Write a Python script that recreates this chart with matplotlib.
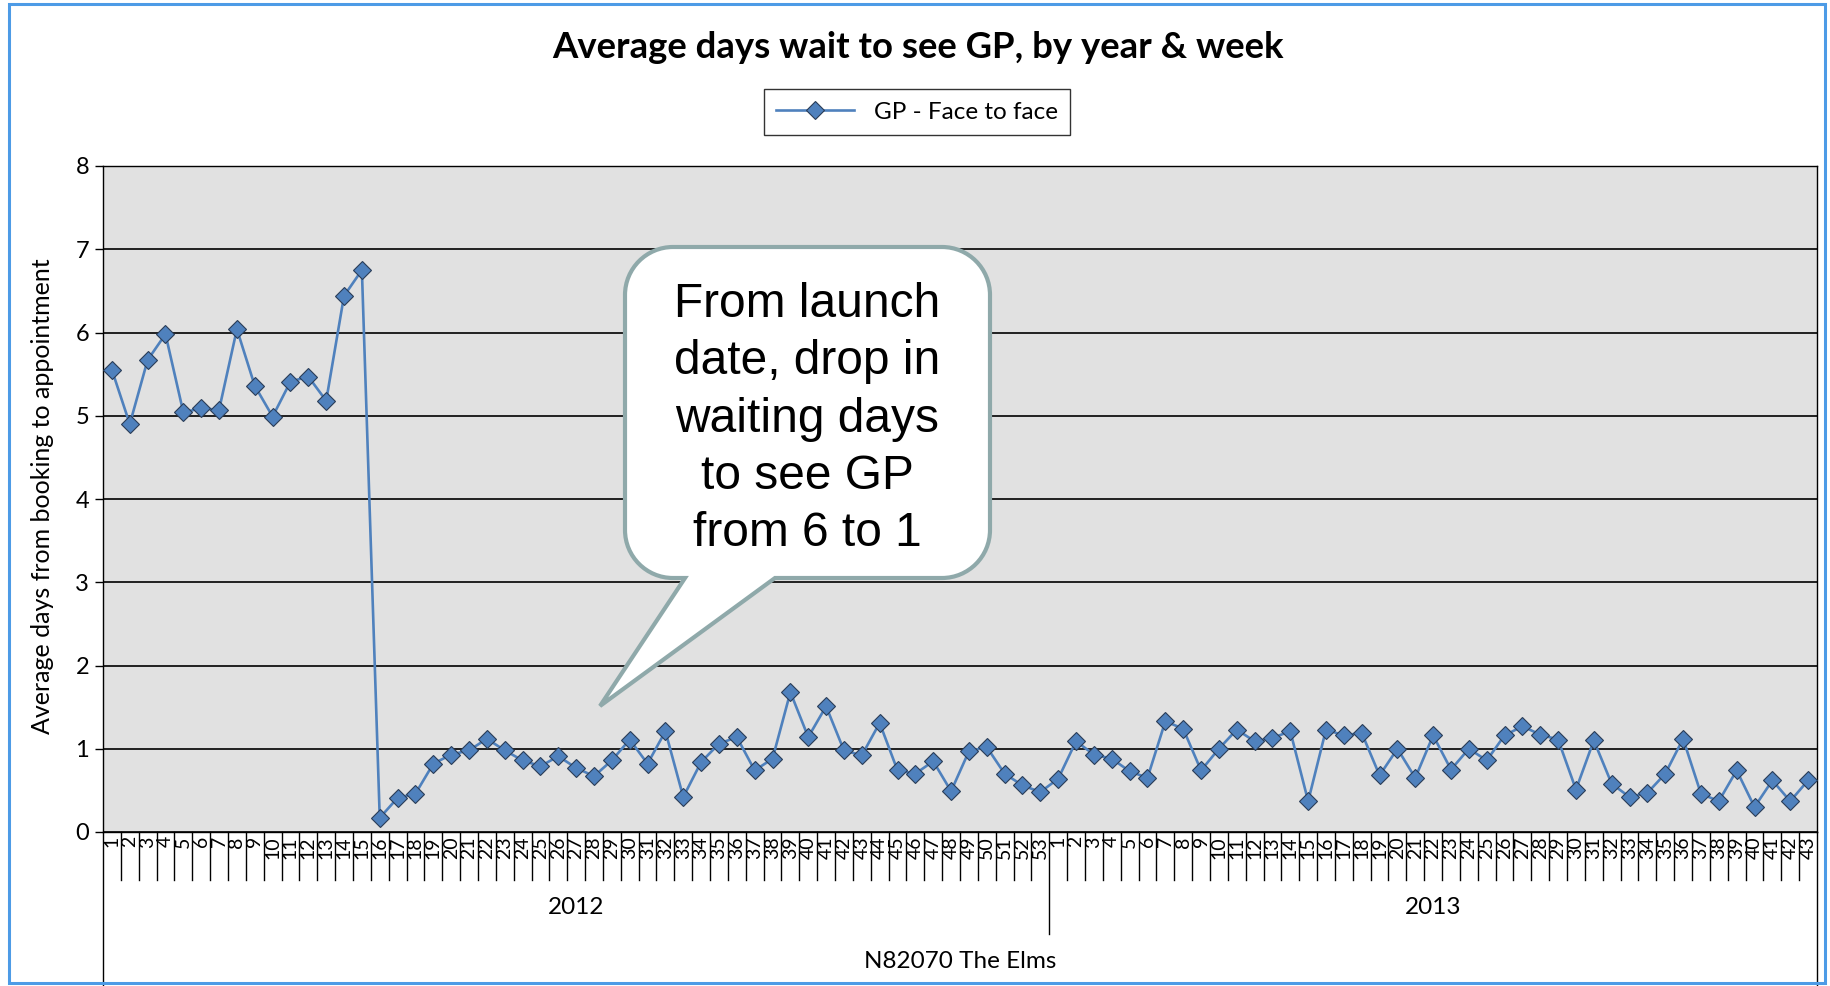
import numpy as np
import matplotlib
matplotlib.use("Agg")
import matplotlib.pyplot as plt
from matplotlib.path import Path
from matplotlib.patches import PathPatch, Rectangle
from matplotlib.transforms import Affine2D, blended_transform_factory

# -----------------------------
# DATA
# -----------------------------
years = ["2012", "2013"]
weeks_2012 = list(range(1, 54))
weeks_2013 = list(range(1, 44))

wait_2012 = [5.55, 4.90, 5.67, 5.98, 5.04, 5.09, 5.07, 6.04, 5.36, 4.99,
             5.41, 5.47, 5.18, 6.44, 6.75, 0.17, 0.41, 0.46, 0.82, 0.93,
             0.98, 1.12, 0.98, 0.86, 0.79, 0.91, 0.77, 0.67, 0.86, 1.11,
             0.82, 1.21, 0.42, 0.84, 1.06, 1.14, 0.74, 0.88, 1.68, 1.14,
             1.51, 0.98, 0.92, 1.31, 0.74, 0.70, 0.85, 0.49, 0.97, 1.02,
             0.70, 0.56, 0.48]
wait_2013 = [0.64, 1.09, 0.93, 0.88, 0.73, 0.65, 1.33, 1.24, 0.74, 1.00,
             1.23, 1.09, 1.13, 1.21, 0.37, 1.23, 1.16, 1.19, 0.68, 1.00,
             0.65, 1.16, 0.75, 1.00, 0.86, 1.16, 1.27, 1.17, 1.11, 0.51,
             1.10, 0.58, 0.42, 0.47, 0.70, 1.12, 0.46, 0.37, 0.74, 0.30,
             0.62, 0.37, 0.62]

series_name = "GP - Face to face"
practice = "N82070 The Elms"
title = "Average days wait to see GP, by year & week"
ylabel = "Average days from booking to appointment"
callout = "From launch\ndate, drop in\nwaiting days\nto see GP\nfrom 6 to 1"

values = wait_2012 + wait_2013
week_labels = [str(w) for w in weeks_2012 + weeks_2013]
x = np.arange(len(values))
n = len(values)

# -----------------------------
# FIGURE
# -----------------------------
W, H = 1831, 986
fig = plt.figure(figsize=(W / 100, H / 100), dpi=100)
fig.patch.set_facecolor("white")

# pixel coords (origin top-left) -> figure
px = Affine2D().scale(1 / W, -1 / H).translate(0, 1) + fig.transFigure

ax = fig.add_axes([103 / W, 1 - 832 / H, (1817 - 103) / W, (832 - 166) / H])
ax.set_facecolor("#e1e1e1")

blue = "#4f81bd"
ax.plot(x, values, color=blue, lw=1.9, marker="D", ms=9.5,
        mfc=blue, mec="#2a3d57", mew=0.8, label=series_name, zorder=3)

ax.set_xlim(-0.5, n - 0.5)
ax.set_ylim(0, 8)
ax.set_yticks(range(9))
ax.yaxis.grid(True, color="black", lw=1.2)
ax.set_axisbelow(True)
for s in ax.spines.values():
    s.set_color("black")
    s.set_linewidth(1)

ax.tick_params(axis="y", length=6, width=1, labelsize=17, pad=4)
ax.set_xticks(x)
ax.set_xticklabels(week_labels, rotation=90, fontsize=14)
ax.tick_params(axis="x", length=0, pad=3)
for lab in ax.get_yticklabels() + ax.get_xticklabels():
    lab.set_family("Lato")

# multi-level category separators
trans = blended_transform_factory(ax.transData, ax.transAxes)
split = len(wait_2012) - 0.5
for b in np.arange(-0.5, n):
    if b in (-0.5, n - 0.5):
        depth = 0.24
    elif b == split:
        depth = 0.153
    else:
        depth = 0.072
    ax.plot([b, b], [0, -depth], transform=trans, color="black",
            lw=1, clip_on=False)

ax.text((len(wait_2012) - 1) / 2, -0.113, years[0], transform=trans,
        ha="center", va="center", fontsize=17.5, family="Lato")
ax.text(len(wait_2012) + (len(wait_2013) - 1) / 2, -0.113, years[1],
        transform=trans, ha="center", va="center", fontsize=17.5, family="Lato")
ax.text((n - 1) / 2, -0.194, practice, transform=trans,
        ha="center", va="center", fontsize=17.5, family="Lato")

# -----------------------------
# TITLE / LABELS / LEGEND
# -----------------------------
fig.text(918 / W, 1 - 47 / H, title, ha="center", va="center",
         fontsize=26.3, fontweight="bold", family="Lato")
fig.text(43 / W, 1 - 496 / H, ylabel, rotation=90, ha="center",
         va="center", fontsize=18, family="Lato")

leg = ax.legend(loc="center", bbox_to_anchor=(917 / W, 1 - 112 / H),
                bbox_transform=fig.transFigure, frameon=True, fancybox=False,
                edgecolor="black", handlelength=3.2, borderpad=0.5,
                prop={"family": "Lato", "size": 17.5})
leg.get_frame().set_linewidth(1)

# -----------------------------
# CALLOUT
# -----------------------------
L, R, T, B, r = 625, 990, 247, 578, 48
k = 0.5523 * r
tail = [(775, B), (600, 706), (685, B)]
verts = [(L + r, T), (R - r, T),
         (R - r + k, T), (R, T + r - k), (R, T + r),
         (R, B - r),
         (R, B - r + k), (R - r + k, B), (R - r, B),
         tail[0], tail[1], tail[2],
         (L + r, B),
         (L + r - k, B), (L, B - r + k), (L, B - r),
         (L, T + r),
         (L, T + r - k), (L + r - k, T), (L + r, T),
         (L + r, T)]
codes = ([Path.MOVETO, Path.LINETO] + [Path.CURVE4] * 3 + [Path.LINETO]
         + [Path.CURVE4] * 3 + [Path.LINETO] * 4 + [Path.CURVE4] * 3
         + [Path.LINETO] + [Path.CURVE4] * 3 + [Path.CLOSEPOLY])
fig.add_artist(PathPatch(Path(verts, codes), transform=px, facecolor="white",
                         edgecolor="#8fa9aa", lw=3, zorder=5))
fig.text(807 / W, 1 - 419 / H, callout, ha="center", va="center",
         fontsize=34.5, family="Liberation Sans", linespacing=1.35, zorder=6)

# outer frame
fig.add_artist(Rectangle((9, 4), 1816, 979, transform=px, fill=False,
                         edgecolor="#4d9be6", lw=2.2, zorder=10))

fig.savefig("out.png", dpi=100)
